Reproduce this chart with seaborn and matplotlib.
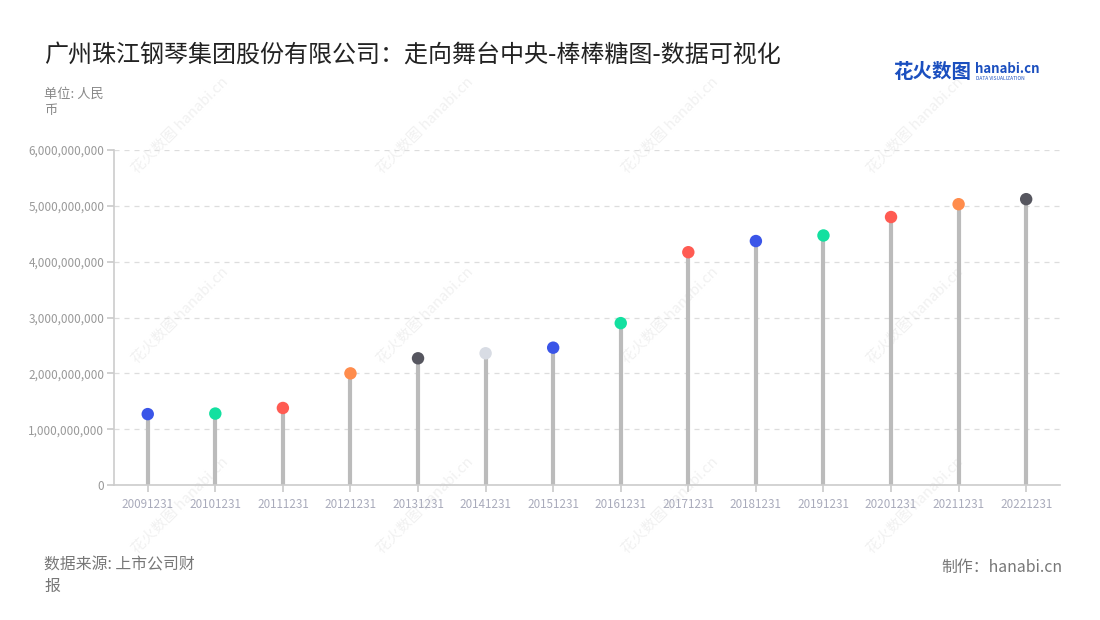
import matplotlib
matplotlib.use("Agg")
import matplotlib.pyplot as plt
import matplotlib.ticker as mticker
import pandas as pd
import seaborn as sns

# report dates and values (RMB)
dates = ["20091231", "20101231", "20111231", "20121231", "20131231", "20141231", "20151231",
         "20161231", "20171231", "20181231", "20191231", "20201231", "20211231", "20221231"]
values = [1.27e9, 1.28e9, 1.38e9, 2.00e9, 2.27e9, 2.36e9, 2.46e9,
          2.90e9, 4.17e9, 4.37e9, 4.47e9, 4.80e9, 5.03e9, 5.12e9]
dot_colors = ["#3a55e8", "#13e0a0", "#ff5b52", "#ff8c4c", "#56565f", "#d8dce4", "#3a55e8",
              "#13e0a0", "#ff5b52", "#3a55e8", "#13e0a0", "#ff5b52", "#ff8c4c", "#56565f"]
y_ticks = [0, 1e9, 2e9, 3e9, 4e9, 5e9, 6e9]

title = "广州珠江钢琴集团股份有限公司：走向舞台中央-棒棒糖图-数据可视化"
unit = "单位: 人民\n币"
source = "数据来源: 上市公司财\n报"
credit = "制作：hanabi.cn"
watermark = "花火数图 hanabi.cn"

sns.set_theme(style="white")
plt.rcParams['font.family'] = ['Noto Sans CJK SC', 'DejaVu Sans']

df = pd.DataFrame({"date": dates, "value": values})

fig = plt.figure(figsize=(11, 6.2), dpi=100)

# faint tiled watermark behind everything
for wx in [180, 425, 670, 915]:
    for wy in [125, 315, 505]:
        fig.text(wx / 1100, 1 - wy / 620, watermark, fontsize=10.5, color="#f1f1f1",
                 rotation=45, ha="center", va="center", zorder=-5)

ax = fig.add_axes([0.1036, 0.2177, 0.86, 0.5403])
ax.patch.set_alpha(0)

# candy heads (sets up the categorical x axis)
sns.scatterplot(data=df, x="date", y="value", hue="date", palette=dot_colors,
                s=80, edgecolor="none", legend=False, ax=ax, zorder=3)
# stems
ax.vlines(range(len(dates)), 0, df["value"], color="#bbbbbb", linewidth=3,
          capstyle="butt", zorder=2)

ax.set_xlim(-0.5, len(dates) - 0.5)
ax.set_ylim(0, 6e9)
ax.set_yticks(y_ticks)
ax.yaxis.set_major_formatter(mticker.FuncFormatter(lambda v, p: f"{int(v):,}"))
ax.grid(axis="y", color="#dddddd", linestyle=(0, (4, 4)), linewidth=0.9, zorder=0)
ax.set_axisbelow(True)
ax.set_xlabel("")
ax.set_ylabel("")

for side in ["top", "right"]:
    ax.spines[side].set_visible(False)
for side in ["left", "bottom"]:
    ax.spines[side].set_color("#cccccc")
    ax.spines[side].set_linewidth(1.2)

ax.tick_params(axis="y", length=5, color="#cccccc", labelsize=8.5, labelcolor="#999999", pad=2, left=True)
ax.tick_params(axis="x", length=5, color="#cccccc", labelsize=8.4, labelcolor="#a9abbb", pad=4, bottom=True)

fig.text(44 / 1100, 1 - 55 / 620, title, fontsize=17.3, color="#222222", va="center", ha="left")
fig.text(44 / 1100, 1 - 88 / 620, unit, fontsize=9.5, color="#888888", va="top", ha="left",
         linespacing=1.3)
fig.text(44 / 1100, 1 - 557 / 620, source, fontsize=11.4, color="#777777", va="top", ha="left",
         linespacing=1.3)
fig.text(1062 / 1100, 1 - 567 / 620, credit, fontsize=11.4, color="#777777", va="center", ha="right")

# logo
fig.text(893 / 1100, 1 - 72 / 620, "花火数图", fontsize=14, color="#1b4fbf", fontweight="bold",
         va="center", ha="left")
fig.text(975 / 1100, 1 - 69 / 620, "hanabi.cn", fontsize=9.5, color="#1b4fbf", fontweight="bold",
         va="center", ha="left")
fig.text(976 / 1100, 1 - 79 / 620, "DATA VISUALIZATION", fontsize=3.5, color="#1b4fbf",
         va="center", ha="left")

fig.savefig("out.png", dpi=100)
